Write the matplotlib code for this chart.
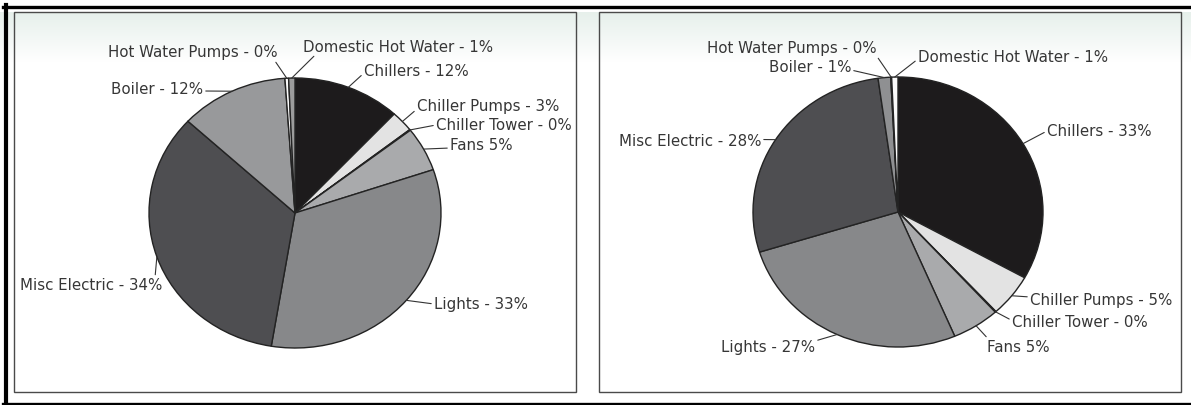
import matplotlib.pyplot as plt
import numpy as np
from matplotlib.lines import Line2D
from matplotlib.patches import Rectangle

plt.rcParams['font.family'] = ['DejaVu Sans']

# data (percent of energy use)
categories = ["Chillers", "Chiller Pumps", "Chiller Tower", "Fans", "Lights",
              "Misc Electric", "Boiler", "Hot Water Pumps", "Domestic Hot Water"]
left_values = [11.9, 2.5, 0.1, 5.3, 32.8, 34.3, 12.0, 0.4, 0.7]
right_values = [33.1, 5.1, 0.1, 5.3, 26.6, 27.6, 1.4, 0.1, 0.7]
left_labels = ["Chillers - 12%", "Chiller Pumps - 3%", "Chiller Tower - 0%", "Fans 5%",
               "Lights - 33%", "Misc Electric - 34%", "Boiler - 12%",
               "Hot Water Pumps - 0%", "Domestic Hot Water - 1%"]
right_labels = ["Chillers - 33%", "Chiller Pumps - 5%", "Chiller Tower - 0%", "Fans 5%",
                "Lights - 27%", "Misc Electric - 28%", "Boiler - 1%",
                "Hot Water Pumps - 0%", "Domestic Hot Water - 1%"]
left_colors = ["#1d1b1c", "#e3e3e3", "#c4c4c4", "#a9aaac", "#87888a",
               "#4e4e51", "#98999b", "#fafafa", "#9c9c9c"]
right_colors = ["#1d1b1c", "#e3e3e3", "#c4c4c4", "#a9aaac", "#87888a",
                "#4e4e51", "#8f9092", "#bbbbbb", "#fafafa"]

# label layout in pixels: (x, y, ha, relpos)
left_layout = [(364, 71, 'left', (0, 0.3)), (417, 107, 'left', (0, 0.3)),
               (436, 126, 'left', (0, 0.5)), (450, 146, 'left', (0, 0.3)),
               (434, 305, 'left', (0, 0.5)), (162, 286, 'right', (0.95, 0.9)),
               (203, 89, 'right', (1, 0.3)), (278, 53, 'right', (0.97, 0.1)),
               (303, 47, 'left', (0.08, 0.1))]
right_layout = [(1047, 132, 'left', (0, 0.5)), (1030, 301, 'left', (0, 0.7)),
                (1012, 323, 'left', (0, 0.6)), (987, 348, 'left', (0.05, 0.9)),
                (815, 348, 'right', (1, 0.9)), (761, 142, 'right', (1, 0.6)),
                (851, 68, 'right', (1, 0.3)), (877, 49, 'right', (0.99, 0.1)),
                (918, 57, 'left', (0, 0.3))]

W, H = 1191, 406
fig = plt.figure(figsize=(W / 100, H / 100), dpi=100)
fig.patch.set_facecolor('white')

# faint greenish wash at the top of the panels
bg = fig.add_axes([0, 0, 1, 1], zorder=-5)
img = np.ones((H, W, 3))
rows = np.arange(H)
fade = np.clip(1 - (rows - 13) / 50.0, 0, 1) * (rows >= 13)
tint = np.array([0.84, 0.90, 0.87])
img = img - (1 - tint)[None, None, :] * fade[:, None, None] * 0.6
bg.imshow(img, extent=[0, W, H, 0], aspect='auto')
bg.set_xlim(0, W)
bg.set_ylim(H, 0)
bg.axis('off')


def fx(x):
    return x / W


def fy(y):
    return 1 - y / H


# outer black frame
fig.add_artist(Line2D([fx(3), fx(W)], [fy(7.5), fy(7.5)], color='black', lw=2.4))
fig.add_artist(Line2D([fx(6), fx(6)], [fy(6), fy(H)], color='black', lw=3.0))
fig.add_artist(Line2D([fx(3), fx(W)], [fy(405), fy(405)], color='black', lw=2.4))


def panel(x0, x1, y0, y1, cx, cy, rx, ry, values, colors, labels, layout):
    fig.add_artist(Rectangle((fx(x0), fy(y1)), fx(x1 - x0), (y1 - y0) / H,
                             transform=fig.transFigure, fill=False,
                             edgecolor='#4a4a4a', lw=1.0))
    ax = fig.add_axes([fx(x0), fy(y1), fx(x1 - x0), (y1 - y0) / H])
    ax.patch.set_alpha(0)
    wedges, _ = ax.pie(values, colors=colors, startangle=90, counterclock=False,
                       wedgeprops=dict(edgecolor='#232323', linewidth=1.0))
    ax.set_aspect('auto')
    ax.set_xlim((x0 - cx) / rx, (x1 - cx) / rx)
    ax.set_ylim((cy - y1) / ry, (cy - y0) / ry)
    ax.axis('off')
    for w, lab, (tx, ty, ha, rp) in zip(wedges, labels, layout):
        mid = np.deg2rad((w.theta1 + w.theta2) / 2)
        target = (np.cos(mid), np.sin(mid))
        ax.annotate(lab, xy=target, xytext=((tx - cx) / rx, (cy - ty) / ry),
                    ha=ha, va='center', fontsize=10.8, color='#363636',
                    arrowprops=dict(arrowstyle='-', color='#333333', lw=0.8,
                                    shrinkA=0, shrinkB=0, relpos=rp))
    return ax


panel(14, 576, 13, 393, 295, 214, 146, 135,
      left_values, left_colors, left_labels, left_layout)
panel(599, 1181, 13, 393, 898, 213, 145, 135,
      right_values, right_colors, right_labels, right_layout)

fig.savefig('out.png', dpi=100)
